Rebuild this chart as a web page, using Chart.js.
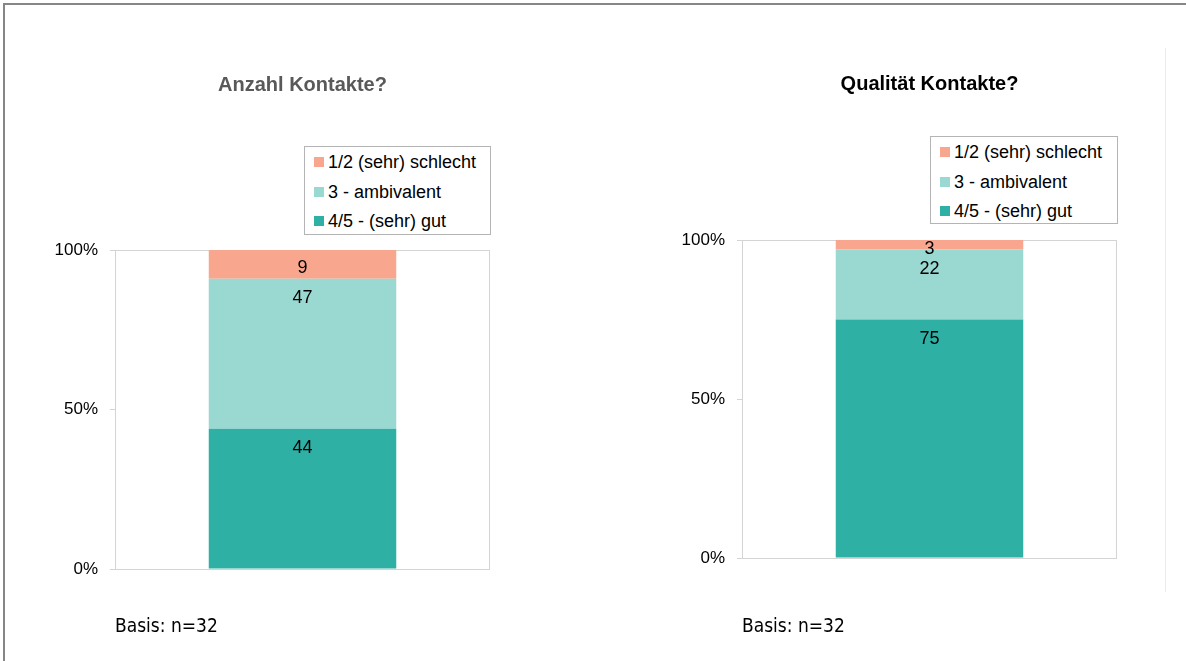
<!DOCTYPE html>
<html>
<head>
<meta charset="utf-8">
<script src="https://cdn.jsdelivr.net/npm/chart.js@4.4.1/dist/chart.umd.min.js"></script>
<style>
  body { margin: 0; background: #fff; width: 1186px; height: 661px; position: relative; overflow: hidden; font-family: 'Liberation Sans', Arial, sans-serif; }
  .frame { position: absolute; left: 3px; top: 3px; right: -10px; bottom: -10px; border-left: 2px solid #868686; border-top: 2px solid #868686; }
  .sep { position: absolute; left: 1165px; top: 48px; width: 1px; height: 544px; background: #ececec; }
  canvas { position: absolute; top: 0; }
  .legend { position: absolute; border: 1px solid #b4b4b4; background: #fff; box-sizing: border-box; padding: 1px 0 0 9px; font-size: 18px; color: #000; }
  .legend div { height: 29.5px; line-height: 29.5px; white-space: nowrap; }
  .legend span { display: inline-block; width: 10px; height: 10px; margin-right: 4px; vertical-align: 1px; }
</style>
</head>
<body>
<div class="frame"></div>
<div class="sep"></div>
<canvas id="chart_anzahl" width="600" height="661" style="left:0"></canvas>
<canvas id="chart_qualitaet" width="586" height="661" style="left:600px"></canvas>
<div class="legend" id="legend_anzahl" style="left:304px;top:146px;width:187px;height:89px"></div>
<div class="legend" id="legend_qualitaet" style="left:930px;top:136px;width:188px;height:88px"></div>

<script>
const TITLES = ['Anzahl Kontakte?', 'Qualität Kontakte?'];
const SERIES = ['4/5 - (sehr) gut', '3 - ambivalent', '1/2 (sehr) schlecht'];
const GUT = [44, 75];
const AMBIVALENT = [47, 22];
const SCHLECHT = [9, 3];
const Y_TICKS = [0, 50, 100];
const BASIS = 'Basis: n=32';
const COLORS = ['#2EB0A5', '#9AD8D2', '#F8A78E'];

// values printed near the top of each segment
const segmentLabels = {
  id: 'segmentLabels',
  afterDatasetsDraw(chart) {
    const ctx = chart.ctx;
    ctx.save();
    ctx.font = '18px "Liberation Sans", Arial, sans-serif';
    ctx.fillStyle = '#000';
    ctx.textAlign = 'center';
    ctx.textBaseline = 'middle';
    chart.data.datasets.forEach((ds, i) => {
      chart.getDatasetMeta(i).data.forEach((bar, j) => {
        const p = bar.getProps(['x', 'y', 'base'], true);
        const y = Math.min(p.y + 19.5, (p.y + p.base) / 2 + 4);
        ctx.fillText(ds.data[j], p.x, y);
      });
    });
    ctx.restore();
  }
};

// light frame around the plot area
const plotBox = {
  id: 'plotBox',
  beforeDatasetsDraw(chart) {
    const a = chart.chartArea;
    const ctx = chart.ctx;
    ctx.save();
    ctx.strokeStyle = '#d4d4d4';
    ctx.lineWidth = 1;
    ctx.strokeRect(a.left + 0.5, a.top + 0.5, a.right - a.left - 1, a.bottom - a.top);
    ctx.restore();
  }
};

function buildLegend(id) {
  const el = document.getElementById(id);
  SERIES.slice().reverse().forEach((name) => {
    const row = document.createElement('div');
    const box = document.createElement('span');
    box.style.background = COLORS[SERIES.indexOf(name)];
    row.appendChild(box);
    row.appendChild(document.createTextNode(name));
    el.appendChild(row);
  });
}

function makeChart(id, i, lay) {
  const values = [GUT[i], AMBIVALENT[i], SCHLECHT[i]];
  new Chart(document.getElementById(id), {
    type: 'bar',
    data: {
      labels: [''],
      datasets: SERIES.map((name, k) => ({
        label: name,
        data: [values[k]],
        backgroundColor: COLORS[k],
        borderWidth: 0,
        barPercentage: 0.5,
        categoryPercentage: 1
      }))
    },
    options: {
      responsive: false,
      animation: false,
      layout: { padding: { left: lay.left, right: lay.right, top: 0, bottom: 22.6 } },
      plugins: {
        legend: { display: false },
        tooltip: { enabled: false },
        title: {
          display: true,
          text: TITLES[i],
          fullSize: false,
          color: lay.titleColor,
          font: { family: '"Liberation Sans", Arial, sans-serif', size: 20, weight: 'bold' },
          padding: { top: lay.titleTop, bottom: lay.titleBottom }
        },
        subtitle: {
          display: true,
          text: BASIS,
          position: 'bottom',
          align: 'start',
          fullSize: false,
          color: '#000',
          font: { family: '"Liberation Sans Narrow", "DejaVu Sans Condensed", sans-serif', size: 19 },
          padding: { top: lay.subTop, bottom: 0 }
        }
      },
      scales: {
        x: { stacked: true, display: false },
        y: {
          stacked: true,
          min: 0,
          max: 100,
          afterFit(scale) { scale.width = 60; },
          afterBuildTicks(scale) { scale.ticks = Y_TICKS.map(v => ({ value: v })); },
          border: { display: false },
          grid: { drawOnChartArea: false, drawTicks: true, tickLength: 5, color: '#d4d4d4' },
          ticks: {
            padding: 12,
            color: '#000',
            font: { family: '"Liberation Sans", Arial, sans-serif', size: 17 },
            callback: v => v + '%'
          }
        }
      }
    },
    plugins: [plotBox, segmentLabels]
  });
}

buildLegend('legend_anzahl');
buildLegend('legend_qualitaet');
makeChart('chart_anzahl', 0, { left: 55, right: 110, titleTop: 73, titleBottom: 153, subTop: 46.6, titleColor: '#595959' });
makeChart('chart_qualitaet', 1, { left: 82, right: 69, titleTop: 72, titleBottom: 144, subTop: 57.6, titleColor: '#000' });
</script>
</body>
</html>
